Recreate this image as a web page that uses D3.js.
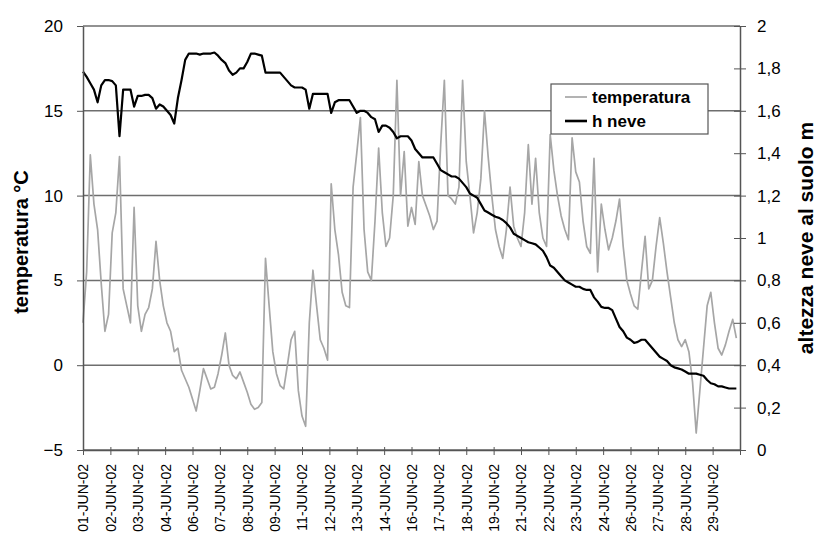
<!DOCTYPE html>
<html>
<head>
<meta charset="utf-8">
<script src="https://cdn.jsdelivr.net/npm/d3@7"></script>
<style>
  body { margin: 0; background: #fff; }
  svg { display: block; }
  text { font-family: Arial, "Liberation Sans", sans-serif; fill: #000; }
</style>
</head>
<body>
<svg id="chart" width="826" height="546"></svg>
<script>
// Readings every 4 hours from 1 June 2002, 00:00 UTC
const seriesStart = "2002-06-01T00:00:00Z";
const stepHours = 4;

// Air temperature, °C (6 readings per day, days 1..30)
const temperatura = [
   2.5,  5.5, 12.4,  9.5,  8.0,  4.8,
   2.0,  3.0,  7.8,  9.0, 12.3,  4.5,
   3.5,  2.5,  9.3,  3.5,  2.0,  3.0,
   3.4,  4.5,  7.3,  5.0,  3.5,  2.5,
   2.0,  0.8,  1.0, -0.3, -0.8, -1.3,
  -2.0, -2.7, -1.5, -0.2, -0.8, -1.4,
  -1.3, -0.5,  0.6,  1.9,  0.0, -0.6,
  -0.8, -0.4, -1.0, -1.6, -2.3, -2.6,
  -2.5, -2.2,  6.3,  3.5,  0.8, -0.5,
  -1.2, -1.4,  0.0,  1.5,  2.0, -1.5,
  -3.0, -3.6,  2.5,  5.6,  3.5,  1.5,
   1.0,  0.3, 10.7,  8.0,  6.5,  4.3,
   3.5,  3.4, 10.5, 12.5, 14.6,  8.0,
   5.5,  5.0,  8.5, 12.8,  9.0,  7.0,
   7.5, 10.0, 16.8, 10.0, 12.6,  8.2,
   9.3,  8.3, 12.0, 10.0,  9.4,  8.8,
   8.0,  8.5, 13.0, 16.8, 10.0,  9.8,
   9.5, 10.5, 16.8, 12.0, 10.0,  7.8,
   9.0, 11.0, 15.0, 12.3, 10.0,  8.0,
   7.0,  6.3,  8.0, 10.5,  8.2,  7.5,
   7.0,  9.0, 13.0,  9.5, 12.2,  9.0,
   7.5,  7.0, 13.6, 11.5, 10.0,  8.8,
   8.0,  7.4, 13.4, 11.4, 10.8,  8.5,
   7.0,  6.6, 12.2,  5.5,  9.5,  8.0,
   6.8,  7.5,  8.5,  9.8,  7.0,  5.0,
   4.2,  3.5,  3.3,  5.5,  7.6,  4.5,
   5.0,  7.0,  8.7,  7.2,  5.5,  4.0,
   2.5,  1.5,  1.1,  1.5,  0.8, -1.0,
  -4.0, -1.5,  1.0,  3.5,  4.3,  2.5,
   1.0,  0.6,  1.2,  2.0,  2.7,  1.6
];

// Snow depth on the ground, m (same timestamps)
const hNeve = [
  1.785, 1.76, 1.73, 1.70, 1.64, 1.72,
  1.745, 1.745, 1.74, 1.72, 1.48, 1.70,
  1.70, 1.70, 1.62, 1.67, 1.67, 1.675,
  1.675, 1.66, 1.61, 1.63, 1.62, 1.60,
  1.58, 1.54, 1.66, 1.745, 1.84, 1.87,
  1.87, 1.87, 1.865, 1.87, 1.87, 1.87,
  1.875, 1.86, 1.84, 1.825, 1.79, 1.77,
  1.78, 1.80, 1.80, 1.83, 1.87, 1.87,
  1.865, 1.86, 1.78, 1.78, 1.78, 1.78,
  1.78, 1.76, 1.74, 1.72, 1.71, 1.71,
  1.71, 1.70, 1.61, 1.68, 1.68, 1.68,
  1.68, 1.68, 1.59, 1.64, 1.65, 1.65,
  1.65, 1.65, 1.62, 1.59, 1.60, 1.60,
  1.59, 1.57, 1.56, 1.50, 1.53, 1.53,
  1.52, 1.50, 1.47, 1.48, 1.48, 1.48,
  1.46, 1.42, 1.40, 1.38, 1.38, 1.38,
  1.38, 1.35, 1.32, 1.31, 1.30, 1.29,
  1.29, 1.28, 1.26, 1.24, 1.21, 1.20,
  1.19, 1.16, 1.13, 1.12, 1.11, 1.10,
  1.095, 1.085, 1.07, 1.05, 1.02, 1.01,
  1.00, 0.99, 0.98, 0.975, 0.97, 0.955,
  0.94, 0.91, 0.87, 0.86, 0.84, 0.82,
  0.80, 0.79, 0.78, 0.77, 0.77, 0.76,
  0.755, 0.755, 0.72, 0.70, 0.675, 0.67,
  0.67, 0.66, 0.62, 0.58, 0.56, 0.53,
  0.52, 0.505, 0.51, 0.52, 0.52, 0.50,
  0.48, 0.46, 0.44, 0.43, 0.42, 0.40,
  0.39, 0.385, 0.38, 0.37, 0.36, 0.36,
  0.36, 0.355, 0.35, 0.33, 0.315, 0.31,
  0.30, 0.30, 0.295, 0.29, 0.29, 0.29
];

const tempTicks = [-5, 0, 5, 10, 15, 20];
const neveTicks = [0, 0.2, 0.4, 0.6, 0.8, 1, 1.2, 1.4, 1.6, 1.8, 2];
const dateTickStepHours = 30;           // one date label every 30 hours
const dateTickCount = 25;
const seriesNames = ["temperatura", "h neve"];
const axisTitles = ["temperatura °C", "altezza neve al suolo m"];

const svg = d3.select("#chart");
const plot = { left: 83, right: 740, top: 26, bottom: 450 };
const FONT = "Arial, 'Liberation Sans', sans-serif";

const t0 = new Date(seriesStart);
const times = temperatura.map((_, i) => d3.utcHour.offset(t0, i * stepHours));
const x = d3.scaleUtc()
  .domain([t0, d3.utcDay.offset(t0, 30)])
  .range([plot.left, plot.right]);
const yT = d3.scaleLinear().domain([-5, 20]).range([plot.bottom, plot.top]);
const yH = d3.scaleLinear().domain([0, 2]).range([plot.bottom, plot.top]);

// horizontal gridlines on the temperature scale
svg.append("g")
  .selectAll("line")
  .data(tempTicks)
  .join("line")
  .attr("x1", plot.left).attr("x2", plot.right)
  .attr("y1", d => yT(d)).attr("y2", d => yT(d))
  .attr("stroke", "#6e6e6e").attr("stroke-width", 1.5);

// data lines
const tempLine = d3.line().x((d, i) => x(times[i])).y(d => yT(d));
const snowLine = d3.line().x((d, i) => x(times[i])).y(d => yH(d));

svg.append("path").datum(temperatura)
  .attr("d", tempLine)
  .attr("fill", "none").attr("stroke", "#a6a6a6").attr("stroke-width", 1.7)
  .attr("stroke-linejoin", "round");

svg.append("path").datum(hNeve)
  .attr("d", snowLine)
  .attr("fill", "none").attr("stroke", "#000").attr("stroke-width", 2.2)
  .attr("stroke-linejoin", "round");

// bottom date axis
const dateTicks = d3.range(dateTickCount).map(k => d3.utcHour.offset(t0, k * dateTickStepHours));
const fmtDate = d3.utcFormat("%d-%b-%y");
const xAxis = d3.axisBottom(x)
  .tickValues(dateTicks)
  .tickSizeInner(5).tickSizeOuter(0)
  .tickFormat((d, i) => i < dateTickCount - 1 ? fmtDate(d).toUpperCase() : "");
const gx = svg.append("g").attr("transform", `translate(0,${plot.bottom})`).call(xAxis);
gx.select(".domain").attr("stroke", "#555").attr("stroke-width", 1.5);
gx.selectAll(".tick line").attr("stroke", "#555").attr("y1", -3);
gx.selectAll(".tick text")
  .attr("transform", "rotate(-90)")
  .attr("text-anchor", "end")
  .attr("x", -14).attr("y", 0).attr("dy", "0.35em")
  .attr("font-size", 14).attr("font-family", FONT);

// left temperature axis
const yAxisL = d3.axisLeft(yT).tickValues(tempTicks).tickSizeInner(6).tickSizeOuter(0).tickPadding(14);
const gl = svg.append("g").attr("transform", `translate(${plot.left},0)`).call(yAxisL);
gl.select(".domain").attr("stroke", "#555").attr("stroke-width", 1.5);
gl.selectAll(".tick line").attr("stroke", "#555");
gl.selectAll(".tick text").attr("font-size", 17).attr("font-family", FONT);

// right snow-depth axis
const yAxisR = d3.axisRight(yH).tickValues(neveTicks).tickSizeInner(6).tickSizeOuter(0).tickPadding(11)
  .tickFormat(d => String(+d.toFixed(1)).replace(".", ","));
const gr = svg.append("g").attr("transform", `translate(${plot.right},0)`).call(yAxisR);
gr.select(".domain").attr("stroke", "#555").attr("stroke-width", 1.5);
gr.selectAll(".tick line").attr("stroke", "#555").attr("x1", -6);
gr.selectAll(".tick text").attr("font-size", 17).attr("font-family", FONT);

// axis titles
const midY = (plot.top + plot.bottom) / 2;
svg.append("text")
  .attr("transform", `translate(21,${midY + 4}) rotate(-90)`)
  .attr("text-anchor", "middle").attr("dy", "0.35em")
  .attr("font-size", 20).attr("font-weight", "bold")
  .text(axisTitles[0]);
svg.append("text")
  .attr("transform", `translate(806,${midY}) rotate(-90)`)
  .attr("text-anchor", "middle").attr("dy", "0.35em")
  .attr("font-size", 21).attr("font-weight", "bold")
  .text(axisTitles[1]);

// legend
const lg = svg.append("g").attr("transform", "translate(551,84)");
lg.append("rect").attr("width", 157).attr("height", 50)
  .attr("fill", "#fff").attr("stroke", "#555").attr("stroke-width", 1.2);
const legendStyles = [
  { stroke: "#a6a6a6", width: 1.7 },
  { stroke: "#000", width: 2.6 }
];
seriesNames.forEach((name, i) => {
  const yy = 13 + i * 24;
  lg.append("line").attr("x1", 14).attr("x2", 36).attr("y1", yy).attr("y2", yy)
    .attr("stroke", legendStyles[i].stroke).attr("stroke-width", legendStyles[i].width);
  lg.append("text").attr("x", 41).attr("y", yy).attr("dy", "0.35em")
    .attr("font-size", 17).attr("font-weight", "bold").text(name);
});
</script>
</body>
</html>
